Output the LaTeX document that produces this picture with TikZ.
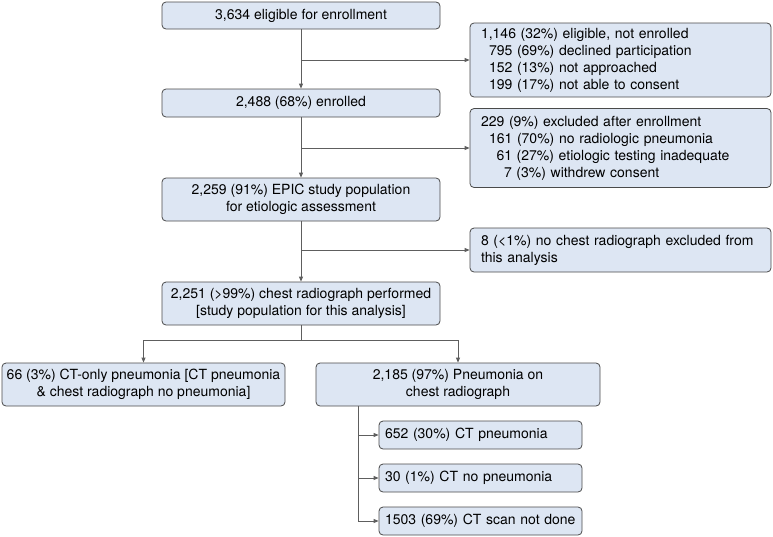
\documentclass[tikz,border=0pt]{standalone}
\usepackage{fontspec}
\setmainfont{TeX Gyre Heros}
\usetikzlibrary{arrows.meta,positioning}
\definecolor{boxfill}{HTML}{DDE6F3}
\definecolor{boxline}{HTML}{4A4A4A}
\definecolor{linegray}{HTML}{5E5E5E}

\begin{document}
\begin{tikzpicture}[x=1pt,y=-1pt,
  font=\fontsize{14}{17}\selectfont,
  box/.style={draw=boxline, fill=boxfill, rounded corners=4pt, line width=0.8pt, align=center, inner sep=0pt},
  mainbox/.style={box, minimum width=278pt},
  sidebox/.style={box, align=left, text width=279pt, inner xsep=11pt},
  ctbox/.style={box, align=left, text width=191pt, inner xsep=6pt, minimum height=28pt},
  link/.style={draw=linegray, line width=0.8pt},
  arr/.style={link, -{Triangle[length=5pt,width=4pt]}}]
\useasboundingbox (0,0) rectangle (773,536);

% main column
\node[mainbox, minimum height=27pt] (elig) at (301,15.5) {3,634 eligible for enrollment};
\node[mainbox, minimum height=28pt] (enr) at (301,103) {2,488 (68\%) enrolled};
\node[mainbox, minimum height=43pt] (epic) at (301,199.5) {2,259 (91\%) EPIC study population\\for etiologic assessment};
\node[mainbox, minimum height=43pt] (cxr) at (301,303.5) {2,251 (>99\%) chest radiograph performed\\{[study population for this analysis]}};

% exclusions
\node[sidebox, minimum height=74pt] (notenr) at (620.5,60) {1,146 (32\%) eligible, not enrolled\\
  \hspace*{8pt}795 (69\%) declined participation\\
  \hspace*{8pt}152 (13\%) not approached\\
  \hspace*{8pt}199 (17\%) not able to consent};
\node[sidebox, minimum height=79pt] (excl) at (620.5,148) {229 (9\%) excluded after enrollment\\
  \hspace*{8pt}161 (70\%) no radiologic pneumonia\\
  \hspace*{15.5pt}61 (27\%) etiologic testing inadequate\\
  \hspace*{23pt}7 (3\%) withdrew consent};
\node[sidebox, minimum height=44pt] (nocxr) at (620.5,250) {8 (<1\%) no chest radiograph excluded from\\this analysis};

% lower part
\node[box, minimum width=283pt, minimum height=43pt] (ctonly) at (143.5,384.5) {66 (3\%) CT-only pneumonia [CT pneumonia\\\& chest radiograph no pneumonia]};
\node[box, minimum width=284pt, minimum height=43pt] (pna) at (458,384.5) {2,185 (97\%) Pneumonia on\\chest radiograph};
\node[ctbox] (ctp) at (480.5,435) {652 (30\%) CT pneumonia};
\node[ctbox] (ctno) at (480.5,478) {30 (1\%) CT no pneumonia};
\node[ctbox] (ctnd) at (480.5,521) {1503 (69\%) CT scan not done};

\draw[arr] (elig) -- (enr);
\draw[arr] (enr) -- (epic);
\draw[arr] (epic) -- (cxr);
\draw[arr] (elig.south |- notenr.west) -- (notenr.west);
\draw[arr] (enr.south |- excl.west) -- (excl.west);
\draw[arr] (epic.south |- nocxr.west) -- (nocxr.west);

\draw[link] (cxr.south) -- ++(0,15) coordinate (split);
\draw[link] (split -| ctonly.north) -- (split -| pna.north);
\draw[arr] (split -| ctonly.north) -- (ctonly.north);
\draw[arr] (split -| pna.north) -- (pna.north);

\coordinate (trunk) at ([xshift=43pt]pna.south west);
\draw[arr] (trunk) |- (ctnd.west);
\draw[arr] (trunk |- ctp.west) -- (ctp.west);
\draw[arr] (trunk |- ctno.west) -- (ctno.west);
\end{tikzpicture}
\end{document}
